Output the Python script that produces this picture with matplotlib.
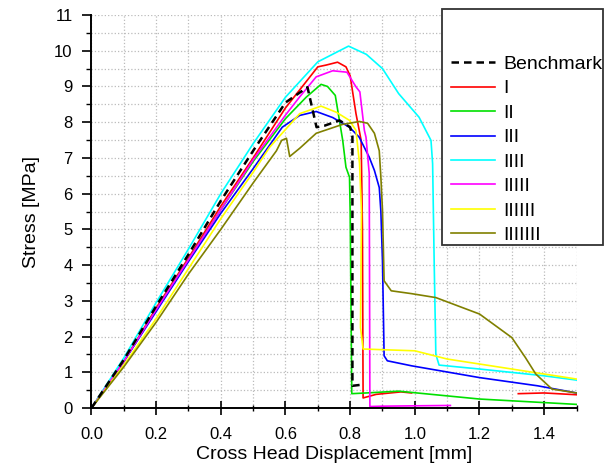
import numpy as np
import matplotlib
matplotlib.use("Agg")
import matplotlib.pyplot as plt
from matplotlib.patches import Rectangle
from matplotlib.ticker import MultipleLocator

plt.rcParams['font.family'] = ['Liberation Sans', 'DejaVu Sans']

# values (displacement mm, stress MPa)
bench_x = [0, 0.1, 0.2, 0.3, 0.4, 0.5, 0.6, 0.668, 0.696, 0.72, 0.767, 0.80, 0.807, 0.807, 0.835]
bench_y = [0, 1.35, 2.85, 4.3, 5.8, 7.2, 8.55, 8.98, 7.86, 7.9, 8.05, 7.86, 7.6, 0.62, 0.65]

s1_x = [0, 0.1, 0.2, 0.3, 0.4, 0.5, 0.6, 0.7, 0.726, 0.761, 0.787, 0.80, 0.818, 0.834, 0.838, 0.84, 0.88, 0.957, 0.99,
        1.32, 1.32, 1.4, 1.5]
s1_y = [0, 1.3, 2.8, 4.2, 5.65, 7.0, 8.4, 9.55, 9.6, 9.68, 9.55, 9.3, 8.24, 7.49, 5.0, 0.28, 0.38, 0.45, 0.42,
        np.nan, 0.4, 0.42, 0.37]

s2_x = [0, 0.1, 0.2, 0.3, 0.4, 0.5, 0.6, 0.664, 0.71, 0.73, 0.754, 0.76, 0.777, 0.787, 0.798, 0.80, 0.805, 0.85,
        0.95, 1.2, 1.5]
s2_y = [0, 1.3, 2.75, 4.15, 5.55, 6.9, 8.1, 8.7, 9.06, 9.0, 8.75, 8.42, 7.49, 6.74, 6.46, 5.5, 0.4, 0.42,
        0.47, 0.25, 0.1]

s3_x = [0, 0.1, 0.2, 0.3, 0.4, 0.5, 0.59, 0.644, 0.695, 0.746, 0.798, 0.828, 0.859, 0.875, 0.89, 0.895, 0.9,
        0.905, 0.915, 0.99, 1.2, 1.38, 1.5]
s3_y = [0, 1.3, 2.7, 4.1, 5.45, 6.7, 7.86, 8.19, 8.3, 8.13, 7.86, 7.58, 7.02, 6.65, 6.17, 5.5, 4.1,
        1.46, 1.32, 1.18, 0.85, 0.62, 0.42]

s4_x = [0, 0.1, 0.2, 0.3, 0.4, 0.5, 0.6, 0.7, 0.795, 0.85, 0.9, 0.95, 1.013, 1.05, 1.055, 1.06, 1.065, 1.075,
        1.2, 1.4, 1.5]
s4_y = [0, 1.4, 2.95, 4.45, 6.0, 7.4, 8.7, 9.69, 10.13, 9.9, 9.5, 8.8, 8.14, 7.49, 6.84, 4.0, 1.5, 1.2,
        1.09, 0.9, 0.78]

s5_x = [0, 0.1, 0.2, 0.3, 0.4, 0.5, 0.6, 0.644, 0.695, 0.746, 0.79, 0.818, 0.83, 0.844, 0.849, 0.859, 0.861,
        0.9, 1.0, 1.11]
s5_y = [0, 1.3, 2.75, 4.15, 5.55, 6.95, 8.2, 8.71, 9.27, 9.44, 9.4, 8.99, 8.85, 7.77, 7.58, 6.56, 0.04,
        0.05, 0.06, 0.07]

s6_x = [0, 0.1, 0.2, 0.3, 0.4, 0.5, 0.551, 0.644, 0.71, 0.757, 0.798, 0.818, 0.829, 0.835, 0.832, 0.84, 1.0,
        1.1, 1.3, 1.5]
s6_y = [0, 1.2, 2.5, 3.9, 5.3, 6.6, 7.3, 8.24, 8.45, 8.28, 8.05, 7.77, 6.84, 5.5, 2.25, 1.65, 1.6,
        1.37, 1.09, 0.81]

s7_x = [0, 0.1, 0.2, 0.3, 0.4, 0.5, 0.572, 0.588, 0.603, 0.613, 0.644, 0.695, 0.777, 0.829, 0.854, 0.875,
        0.89, 0.895, 0.9, 0.905, 0.927, 0.99, 1.065, 1.2, 1.3, 1.342, 1.374, 1.424, 1.5]
s7_y = [0, 1.15, 2.4, 3.75, 5.0, 6.3, 7.2, 7.49, 7.55, 7.04, 7.27, 7.69, 7.94, 8.02, 7.97, 7.69,
        7.2, 6.46, 5.53, 3.56, 3.28, 3.2, 3.09, 2.63, 1.97, 1.41, 0.95, 0.53, 0.42]

labels = ["Benchmark", "I", "II", "III", "IIII", "IIIII", "IIIIII", "IIIIIII"]
colors = ["black", "#ff0000", "#00e000", "#0000ff", "#00ffff", "#ff00ff", "#ffff00", "#808000"]
xs = [bench_x, s1_x, s2_x, s3_x, s4_x, s5_x, s6_x, s7_x]
ys = [bench_y, s1_y, s2_y, s3_y, s4_y, s5_y, s6_y, s7_y]

fig = plt.figure(figsize=(6.05, 4.7), dpi=100)
ax = fig.add_axes([0.1512, 0.132, 0.8017, 0.836])

handles = []
for i in range(len(labels)):
    if i == 0:
        h, = ax.plot(xs[i], ys[i], color=colors[i], lw=1.8, ls=(0, (3, 2)), zorder=5)
    else:
        h, = ax.plot(xs[i], ys[i], color=colors[i], lw=1.2)
    handles.append(h)

ax.set_xlim(0, 1.5)
ax.set_ylim(0, 11)
ax.xaxis.set_major_locator(MultipleLocator(0.2))
ax.xaxis.set_minor_locator(MultipleLocator(0.1))
ax.yaxis.set_major_locator(MultipleLocator(1))
ax.yaxis.set_minor_locator(MultipleLocator(0.5))
ax.set_xticks([0.0, 0.2, 0.4, 0.6, 0.8, 1.0, 1.2, 1.4])

ax.grid(which='both', color='#bbbbbb', ls=':', lw=0.9)
ax.set_axisbelow(True)
for s in ['top', 'right']:
    ax.spines[s].set_visible(False)
for s in ['left', 'bottom']:
    ax.spines[s].set_linewidth(1.4)

ax.tick_params(axis='x', which='major', direction='inout', length=9.5, width=1.2, pad=9, labelsize=12)
ax.tick_params(axis='x', which='minor', direction='inout', length=5, width=1.0)
ax.tick_params(axis='y', which='major', direction='out', length=6.5, width=1.2, pad=7, labelsize=12)
ax.tick_params(axis='y', which='minor', direction='out', length=3.5, width=1.0)

ax.set_xlabel("Cross Head Displacement [mm]", fontsize=14, labelpad=3)
ax.set_ylabel("Stress [MPa]", fontsize=14, labelpad=10)

# legend box
fig.patches.append(Rectangle((0.7306, 0.4787), 0.2665, 0.502, transform=fig.transFigure,
                             fill=True, facecolor='white', edgecolor='#333333', lw=1.3, zorder=10))
leg = fig.legend(handles, labels, loc='upper left', bbox_to_anchor=(0.745, 0.882),
                 frameon=False, fontsize=14, handlelength=2.3, handletextpad=0.4,
                 labelspacing=0.35, borderaxespad=0, borderpad=0)
leg.set_zorder(11)

fig.savefig("out.png", dpi=100)
